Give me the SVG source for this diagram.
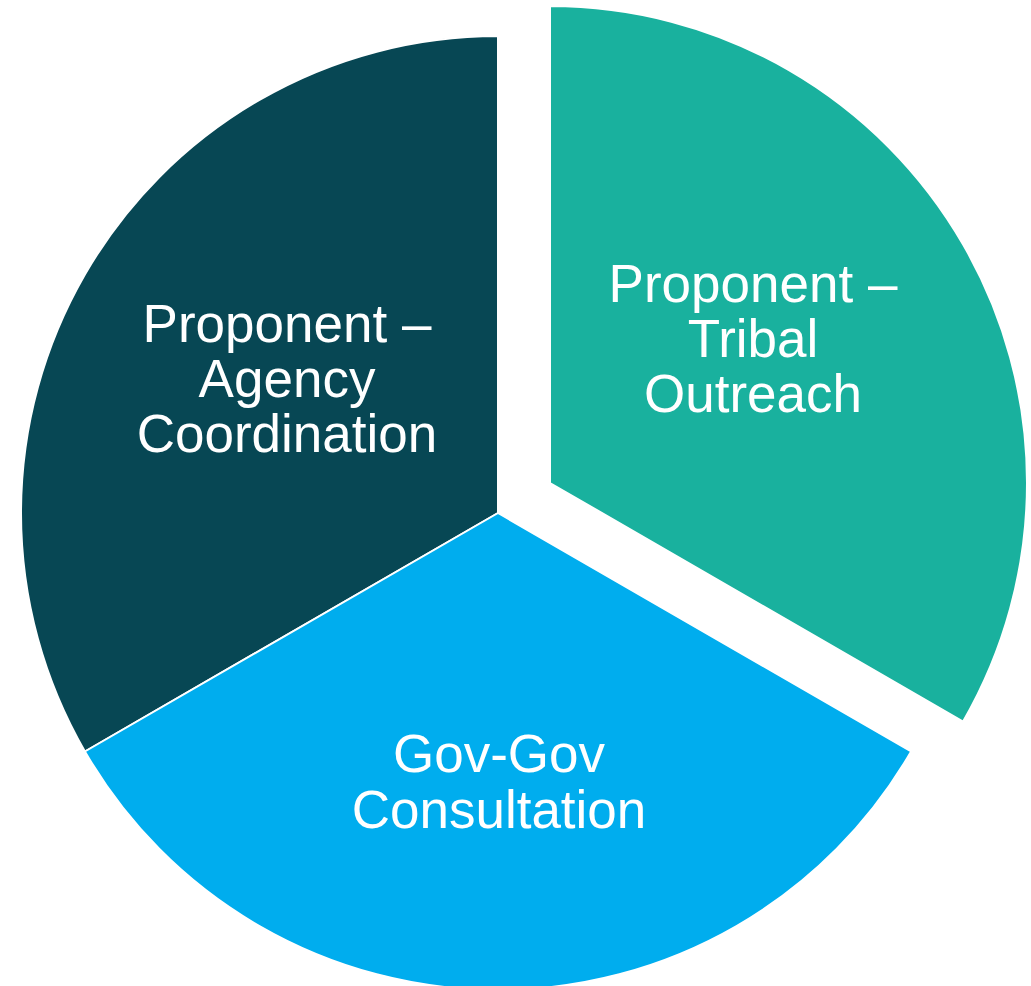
<svg xmlns="http://www.w3.org/2000/svg" width="1031" height="986" viewBox="0 0 1031 986">
<style>
.slice{stroke:#ffffff;stroke-width:2;stroke-linejoin:round}
.lbl{font-family:"Liberation Sans",Arial,sans-serif;font-size:53px;fill:#ffffff;text-anchor:middle}
</style>
<rect width="1031" height="986" fill="#ffffff"/>
<g id="agency">
<path class="slice" d="M498,513 L498,36 A477,477 0 0 0 84.9,751.5 Z" fill="#074754"/>
<text class="lbl" x="287" y="342">Proponent –</text>
<text class="lbl" x="287" y="397">Agency</text>
<text class="lbl" x="287" y="452">Coordination</text>
</g>
<g id="govgov">
<path class="slice" d="M498,513 L84.9,751.5 A477,477 0 0 0 911.1,751.5 Z" fill="#00ADEE"/>
<text class="lbl" x="499" y="772">Gov-Gov</text>
<text class="lbl" x="499" y="828">Consultation</text>
</g>
<g id="tribal">
<path class="slice" d="M550,483 L550,6 A477,477 0 0 1 963.1,721.5 Z" fill="#19B19E"/>
<text class="lbl" x="753" y="302">Proponent –</text>
<text class="lbl" x="753" y="357">Tribal</text>
<text class="lbl" x="753" y="412">Outreach</text>
</g>
<g id="connectors"></g>
</svg>
